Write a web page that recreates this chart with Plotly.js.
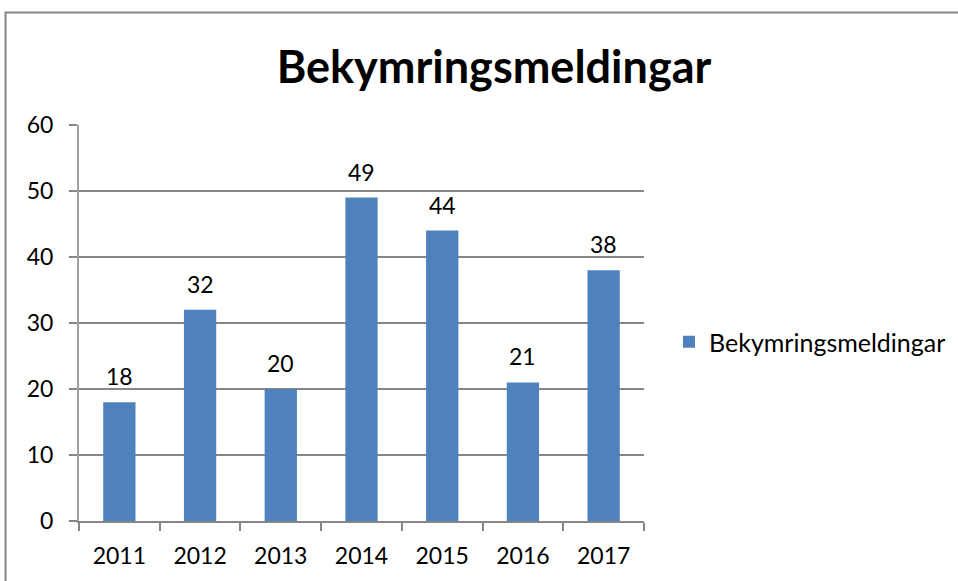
<!DOCTYPE html>
<html>
<head>
<meta charset="utf-8">
<script src="https://cdn.plot.ly/plotly-3.0.1.min.js"></script>
<style>
html,body{margin:0;padding:0;background:#fff;}
#chart{width:958px;height:581px;}
</style>
</head>
<body>
<div id="chart"></div>
<script>
const years = ['2011','2012','2013','2014','2015','2016','2017'];
const values = [18, 32, 20, 49, 44, 21, 38];
const seriesName = 'Bekymringsmeldingar';
const chartTitle = 'Bekymringsmeldingar';
const yTicks = [0, 10, 20, 30, 40, 50, 60];

const FONT = 'Lato, Calibri, Carlito, sans-serif';
const W = 958, H = 581;
const L = 79, R = 644, T = 125, B = 521;
const pw = R - L, ph = B - T;
const px = v => (v - L) / pw;
const py = v => (B - v) / ph;

const trace = {
  type: 'bar',
  x: years,
  y: values,
  name: seriesName,
  marker: {color: '#4F81BD'},
  hoverinfo: 'none'
};

// value labels above each bar (category index i on the category axis)
const labels = years.map((yr, i) => ({
  x: i, y: values[i], xref: 'x', yref: 'y',
  text: String(values[i]), showarrow: false,
  yanchor: 'middle', yshift: 26,
  font: {family: FONT, size: 23, color: '#000'}
}));

const layout = {
  width: W, height: H,
  margin: {l: L, r: W - R, t: T, b: H - B, pad: 0, autoexpand: false},
  paper_bgcolor: '#fff',
  plot_bgcolor: '#fff',
  font: {family: FONT, color: '#000', size: 23},
  title: {
    text: '<b>' + chartTitle + '</b>',
    font: {family: FONT, size: 45, color: '#000'},
    x: px(494), xref: 'paper', xanchor: 'center',
    y: 1 - 67 / H, yref: 'container', yanchor: 'middle'
  },
  bargap: 0.6,
  showlegend: true,
  legend: {
    x: px(669), xanchor: 'left',
    y: py(342), yanchor: 'middle',
    font: {family: FONT, size: 25, color: '#000'},
    itemwidth: 30, bgcolor: 'rgba(0,0,0,0)'
  },
  annotations: labels,
  xaxis: {
    type: 'category',
    range: [-0.5, years.length - 0.5],
    autorange: false,
    showgrid: false,
    showline: true, linecolor: '#868686', linewidth: 2,
    ticks: 'outside', ticklen: 8, tickwidth: 2, tickcolor: '#868686',
    tickson: 'boundaries',
    tickangle: 0,
    ticklabelstandoff: 13,
    tickfont: {family: FONT, size: 23, color: '#000'},
    fixedrange: true
  },
  yaxis: {
    range: [0, 60],
    autorange: false,
    tickvals: yTicks,
    showgrid: true, gridcolor: '#868686', gridwidth: 2,
    showline: true, linecolor: '#A0A0A0', linewidth: 2,
    ticks: 'outside', ticklen: 8, tickwidth: 2, tickcolor: '#868686',
    ticklabelstandoff: 11,
    tickfont: {family: FONT, size: 23, color: '#000'},
    zeroline: false,
    fixedrange: true
  },
  shapes: [{
    type: 'rect', xref: 'paper', yref: 'paper',
    x0: px(5.5), x1: px(1000), y0: py(700), y1: py(12.5),
    line: {color: '#868686', width: 2},
    fillcolor: 'rgba(0,0,0,0)', layer: 'below'
  }]
};

Plotly.newPlot('chart', [trace], layout, {displayModeBar: false, staticPlot: true});
</script>
</body>
</html>
